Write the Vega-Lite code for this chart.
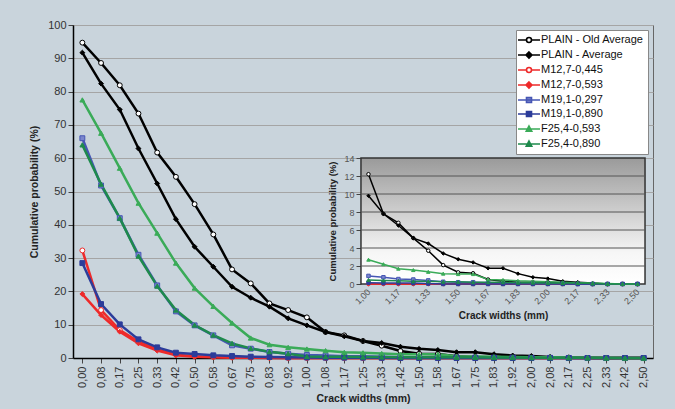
{
  "$schema": "https://vega.github.io/schema/vega-lite/v6.json",
  "width": 580,
  "height": 333,
  "autosize": {"type": "none"},
  "padding": {"left": 73, "top": 25, "right": 22, "bottom": 51},
  "background": "#c9d4dc",
  "config": {
    "view": {"fill": "#ffffff", "stroke": "#666666", "strokeWidth": 1},
    "axis": {"labelFont": "Liberation Sans", "titleFont": "Liberation Sans", "labelColor": "#333333", "titleColor": "#222222"},
    "legend": {"labelFont": "Liberation Sans", "orient": "top-right", "offset": 5, "fillColor": "#ffffff", "strokeColor": "#888888", "padding": 4, "labelFontSize": 11, "labelColor": "#111111", "symbolSize": 100, "symbolStrokeWidth": 1.6, "symbolOffset": 3, "labelOffset": 6, "rowPadding": 2, "symbolOpacity": 1}
  },
  "data": {
    "values": [
      {"w": "0,00", "PLAIN - Old Average": 94.7, "PLAIN - Average": 91.7, "M12,7-0,445": 32.3, "M12,7-0,593": 19.2, "M19,1-0,297": 66.0, "M19,1-0,890": 28.5, "F25,4-0,593": 77.5, "F25,4-0,890": 64.0},
      {"w": "0,08", "PLAIN - Old Average": 88.6, "PLAIN - Average": 82.4, "M12,7-0,445": 14.4, "M12,7-0,593": 12.9, "M19,1-0,297": 51.8, "M19,1-0,890": 16.2, "F25,4-0,593": 67.5, "F25,4-0,890": 52.2},
      {"w": "0,17", "PLAIN - Old Average": 81.9, "PLAIN - Average": 74.6, "M12,7-0,445": 8.4, "M12,7-0,593": 7.9, "M19,1-0,297": 42.0, "M19,1-0,890": 10.1, "F25,4-0,593": 57.0, "F25,4-0,890": 42.0},
      {"w": "0,25", "PLAIN - Old Average": 73.4, "PLAIN - Average": 62.9, "M12,7-0,445": 4.9, "M12,7-0,593": 4.4, "M19,1-0,297": 31.0, "M19,1-0,890": 5.6, "F25,4-0,593": 46.5, "F25,4-0,890": 30.6},
      {"w": "0,33", "PLAIN - Old Average": 61.7, "PLAIN - Average": 52.4, "M12,7-0,445": 2.6, "M12,7-0,593": 2.2, "M19,1-0,297": 21.8, "M19,1-0,890": 3.2, "F25,4-0,593": 37.5, "F25,4-0,890": 21.6},
      {"w": "0,42", "PLAIN - Old Average": 54.4, "PLAIN - Average": 41.7, "M12,7-0,445": 1.0, "M12,7-0,593": 0.8, "M19,1-0,297": 14.0, "M19,1-0,890": 1.6, "F25,4-0,593": 28.5, "F25,4-0,890": 14.4},
      {"w": "0,50", "PLAIN - Old Average": 46.2, "PLAIN - Average": 33.4, "M12,7-0,445": 0.5, "M12,7-0,593": 0.4, "M19,1-0,297": 9.8, "M19,1-0,890": 1.2, "F25,4-0,593": 21.0, "F25,4-0,890": 9.9},
      {"w": "0,58", "PLAIN - Old Average": 37.1, "PLAIN - Average": 27.4, "M12,7-0,445": 0.3, "M12,7-0,593": 0.2, "M19,1-0,297": 6.8, "M19,1-0,890": 0.8, "F25,4-0,593": 15.5, "F25,4-0,890": 6.9},
      {"w": "0,67", "PLAIN - Old Average": 26.6, "PLAIN - Average": 21.4, "M12,7-0,445": 0.2, "M12,7-0,593": 0.1, "M19,1-0,297": 3.8, "M19,1-0,890": 0.6, "F25,4-0,593": 10.5, "F25,4-0,890": 4.4},
      {"w": "0,75", "PLAIN - Old Average": 22.4, "PLAIN - Average": 18.1, "M12,7-0,445": 0.1, "M12,7-0,593": 0.1, "M19,1-0,297": 2.8, "M19,1-0,890": 0.4, "F25,4-0,593": 6.0, "F25,4-0,890": 2.9},
      {"w": "0,83", "PLAIN - Old Average": 16.4, "PLAIN - Average": 15.4, "M12,7-0,445": 0.1, "M12,7-0,593": 0.0, "M19,1-0,297": 1.8, "M19,1-0,890": 0.3, "F25,4-0,593": 4.0, "F25,4-0,890": 1.9},
      {"w": "0,92", "PLAIN - Old Average": 14.4, "PLAIN - Average": 11.9, "M12,7-0,445": 0.0, "M12,7-0,593": 0.0, "M19,1-0,297": 1.3, "M19,1-0,890": 0.2, "F25,4-0,593": 3.2, "F25,4-0,890": 1.3},
      {"w": "1,00", "PLAIN - Old Average": 12.2, "PLAIN - Average": 9.8, "M12,7-0,445": 0.0, "M12,7-0,593": 0.0, "M19,1-0,297": 0.9, "M19,1-0,890": 0.15, "F25,4-0,593": 2.7, "F25,4-0,890": 0.45},
      {"w": "1,08", "PLAIN - Old Average": 7.8, "PLAIN - Average": 7.8, "M12,7-0,445": 0.0, "M12,7-0,593": 0.0, "M19,1-0,297": 0.75, "M19,1-0,890": 0.1, "F25,4-0,593": 2.2, "F25,4-0,890": 0.4},
      {"w": "1,17", "PLAIN - Old Average": 6.8, "PLAIN - Average": 6.5, "M12,7-0,445": 0.0, "M12,7-0,593": 0.0, "M19,1-0,297": 0.55, "M19,1-0,890": 0.1, "F25,4-0,593": 1.7, "F25,4-0,890": 0.35},
      {"w": "1,25", "PLAIN - Old Average": 5.1, "PLAIN - Average": 5.1, "M12,7-0,445": 0.0, "M12,7-0,593": 0.0, "M19,1-0,297": 0.5, "M19,1-0,890": 0.1, "F25,4-0,593": 1.55, "F25,4-0,890": 0.3},
      {"w": "1,33", "PLAIN - Old Average": 3.7, "PLAIN - Average": 4.5, "M12,7-0,445": 0.0, "M12,7-0,593": 0.0, "M19,1-0,297": 0.4, "M19,1-0,890": 0.05, "F25,4-0,593": 1.35, "F25,4-0,890": 0.3},
      {"w": "1,42", "PLAIN - Old Average": 2.1, "PLAIN - Average": 3.4, "M12,7-0,445": 0.0, "M12,7-0,593": 0.0, "M19,1-0,297": 0.25, "M19,1-0,890": 0.0, "F25,4-0,593": 1.15, "F25,4-0,890": 0.25},
      {"w": "1,50", "PLAIN - Old Average": 1.3, "PLAIN - Average": 2.75, "M12,7-0,445": 0.0, "M12,7-0,593": 0.0, "M19,1-0,297": 0.2, "M19,1-0,890": 0.0, "F25,4-0,593": 1.1, "F25,4-0,890": 0.25},
      {"w": "1,58", "PLAIN - Old Average": 1.2, "PLAIN - Average": 2.4, "M12,7-0,445": 0.0, "M12,7-0,593": 0.0, "M19,1-0,297": 0.2, "M19,1-0,890": 0.0, "F25,4-0,593": 1.1, "F25,4-0,890": 0.2},
      {"w": "1,67", "PLAIN - Old Average": 0.5, "PLAIN - Average": 1.75, "M12,7-0,445": 0.0, "M12,7-0,593": 0.0, "M19,1-0,297": 0.15, "M19,1-0,890": 0.0, "F25,4-0,593": 0.5, "F25,4-0,890": 0.2},
      {"w": "1,75", "PLAIN - Old Average": 0.3, "PLAIN - Average": 1.75, "M12,7-0,445": 0.0, "M12,7-0,593": 0.0, "M19,1-0,297": 0.1, "M19,1-0,890": 0.0, "F25,4-0,593": 0.45, "F25,4-0,890": 0.2},
      {"w": "1,83", "PLAIN - Old Average": 0.2, "PLAIN - Average": 1.15, "M12,7-0,445": 0.0, "M12,7-0,593": 0.0, "M19,1-0,297": 0.1, "M19,1-0,890": 0.0, "F25,4-0,593": 0.35, "F25,4-0,890": 0.15},
      {"w": "1,92", "PLAIN - Old Average": 0.2, "PLAIN - Average": 0.75, "M12,7-0,445": 0.0, "M12,7-0,593": 0.0, "M19,1-0,297": 0.1, "M19,1-0,890": 0.0, "F25,4-0,593": 0.3, "F25,4-0,890": 0.15},
      {"w": "2,00", "PLAIN - Old Average": 0.2, "PLAIN - Average": 0.6, "M12,7-0,445": 0.0, "M12,7-0,593": 0.0, "M19,1-0,297": 0.05, "M19,1-0,890": 0.0, "F25,4-0,593": 0.25, "F25,4-0,890": 0.1},
      {"w": "2,08", "PLAIN - Old Average": 0.15, "PLAIN - Average": 0.3, "M12,7-0,445": 0.0, "M12,7-0,593": 0.0, "M19,1-0,297": 0.05, "M19,1-0,890": 0.0, "F25,4-0,593": 0.2, "F25,4-0,890": 0.1},
      {"w": "2,17", "PLAIN - Old Average": 0.1, "PLAIN - Average": 0.2, "M12,7-0,445": 0.0, "M12,7-0,593": 0.0, "M19,1-0,297": 0.0, "M19,1-0,890": 0.0, "F25,4-0,593": 0.15, "F25,4-0,890": 0.1},
      {"w": "2,25", "PLAIN - Old Average": 0.0, "PLAIN - Average": 0.1, "M12,7-0,445": 0.0, "M12,7-0,593": 0.0, "M19,1-0,297": 0.0, "M19,1-0,890": 0.0, "F25,4-0,593": 0.1, "F25,4-0,890": 0.05},
      {"w": "2,33", "PLAIN - Old Average": 0.0, "PLAIN - Average": 0.0, "M12,7-0,445": 0.0, "M12,7-0,593": 0.0, "M19,1-0,297": 0.0, "M19,1-0,890": 0.0, "F25,4-0,593": 0.05, "F25,4-0,890": 0.0},
      {"w": "2,42", "PLAIN - Old Average": 0.0, "PLAIN - Average": 0.0, "M12,7-0,445": 0.0, "M12,7-0,593": 0.0, "M19,1-0,297": 0.0, "M19,1-0,890": 0.0, "F25,4-0,593": 0.0, "F25,4-0,890": 0.0},
      {"w": "2,50", "PLAIN - Old Average": 0.0, "PLAIN - Average": 0.0, "M12,7-0,445": 0.0, "M12,7-0,593": 0.0, "M19,1-0,297": 0.0, "M19,1-0,890": 0.0, "F25,4-0,593": 0.0, "F25,4-0,890": 0.0}
    ]
  },
  "transform": [
    {"fold": ["PLAIN - Old Average", "PLAIN - Average", "M12,7-0,445", "M12,7-0,593", "M19,1-0,297", "M19,1-0,890", "F25,4-0,593", "F25,4-0,890"], "as": ["s", "p"]}
  ],
  "layer": [
    {
      "layer": [
        {
          "mark": {"type": "line", "strokeWidth": 2.5},
          "encoding": {
            "x": {"field": "w", "type": "ordinal", "scale": {"type": "point"},
              "axis": {"title": "Crack widths (mm)", "labelAngle": 270, "labelFontSize": 11, "titleFontSize": 10.5, "titleFontWeight": "bold", "domainColor": "#000000", "domainWidth": 1.5, "tickColor": "#444444", "tickSize": 5, "labelPadding": 3, "titlePadding": 6}},
            "y": {"field": "p", "type": "quantitative", "scale": {"domain": [0, 100], "nice": false},
              "axis": {"title": "Cumulative probability (%)", "values": [0, 10, 20, 30, 40, 50, 60, 70, 80, 90, 100], "tickCount": 20, "format": "d", "labelFontSize": 11, "titleFontSize": 10.5, "titleFontWeight": "bold", "domainColor": "#000000", "domainWidth": 1.5, "tickColor": "#444444", "tickSize": 5, "gridColor": "#a5a5a5", "gridWidth": 1, "titlePadding": 8}},
            "color": {"field": "s", "type": "nominal", "legend": null,
              "scale": {"domain": ["PLAIN - Old Average", "PLAIN - Average", "M12,7-0,445", "M12,7-0,593", "M19,1-0,297", "M19,1-0,890", "F25,4-0,593", "F25,4-0,890"],
                        "range": ["#000000", "#000000", "#ee2a2a", "#ee2a2a", "#4656b4", "#2c3c9a", "#3aab58", "#1e8a4c"]}}
          }
        },
        {
          "mark": {"type": "point", "size": 24, "strokeWidth": 1, "opacity": 1},
          "encoding": {
            "x": {"field": "w", "type": "ordinal"},
            "y": {"field": "p", "type": "quantitative",
              "axis": {"title": "Cumulative probability (%)", "values": [0, 10, 20, 30, 40, 50, 60, 70, 80, 90, 100], "tickCount": 20, "format": "d", "labelFontSize": 11, "titleFontSize": 10.5, "titleFontWeight": "bold", "domainColor": "#000000", "domainWidth": 1.5, "tickColor": "#444444", "tickSize": 5, "gridColor": "#a5a5a5", "gridWidth": 1, "titlePadding": 8}},
            "stroke": {"field": "s", "type": "nominal", "legend": null,
              "scale": {"domain": ["PLAIN - Old Average", "PLAIN - Average", "M12,7-0,445", "M12,7-0,593", "M19,1-0,297", "M19,1-0,890", "F25,4-0,593", "F25,4-0,890"],
                        "range": ["#000000", "#000000", "#ee2a2a", "#ee2a2a", "#4656b4", "#2c3c9a", "#3aab58", "#1e8a4c"]}},
            "fill": {"field": "s", "type": "nominal", "legend": null,
              "scale": {"domain": ["PLAIN - Old Average", "PLAIN - Average", "M12,7-0,445", "M12,7-0,593", "M19,1-0,297", "M19,1-0,890", "F25,4-0,593", "F25,4-0,890"],
                        "range": ["#ffffff", "#000000", "#ffffff", "#ee2a2a", "#7b86cc", "#2c3c9a", "#3aab58", "#1e8a4c"]}},
            "shape": {"field": "s", "type": "nominal", "legend": null,
              "scale": {"domain": ["PLAIN - Old Average", "PLAIN - Average", "M12,7-0,445", "M12,7-0,593", "M19,1-0,297", "M19,1-0,890", "F25,4-0,593", "F25,4-0,890"],
                        "range": ["circle", "diamond", "circle", "diamond", "square", "square", "triangle-up", "triangle-up"]}}
          }
        }
      ]
    },
    {
      "layer": [
        {
          "data": {"values": [{}]},
          "mark": {"type": "rect", "xOffset": -7.5, "x2Offset": 7.5, "stroke": "#333333", "strokeWidth": 1.5,
            "fill": {"gradient": "linear", "x1": 0, "y1": 0, "x2": 0, "y2": 1, "stops": [{"offset": 0, "color": "#9a9a9a"}, {"offset": 0.75, "color": "#f6f6f6"}, {"offset": 1, "color": "#ffffff"}]}},
          "encoding": {
            "x": {"datum": "1,00", "type": "ordinal"},
            "x2": {"datum": "2,50"},
            "y": {"datum": 0, "type": "quantitative"},
            "y2": {"datum": 14}
          }
        },
        {
          "data": {"values": [{"g": 2}, {"g": 4}, {"g": 6}, {"g": 8}, {"g": 10}, {"g": 12}]},
          "mark": {"type": "rule", "xOffset": -7.5, "x2Offset": 7.5, "color": "#555555", "strokeWidth": 1},
          "encoding": {
            "x": {"datum": "1,00", "type": "ordinal"},
            "x2": {"datum": "2,50"},
            "y": {"field": "g", "type": "quantitative"}
          }
        },
        {
          "transform": [{"filter": "datum.w >= '1,00'"}],
          "mark": {"type": "line", "strokeWidth": 1.5},
          "encoding": {
            "x": {"field": "w", "type": "ordinal",
              "scale": {"type": "point", "domain": ["1,00", "1,08", "1,17", "1,25", "1,33", "1,42", "1,50", "1,58", "1,67", "1,75", "1,83", "1,92", "2,00", "2,08", "2,17", "2,25", "2,33", "2,42", "2,50"], "range": [288, 572]},
              "axis": {"orient": "bottom", "offset": -74, "title": "Crack widths (mm)", "values": ["1,00", "1,17", "1,33", "1,50", "1,67", "1,83", "2,00", "2,17", "2,33", "2,50"], "labelAngle": 315, "labelFontSize": 9, "titleFontSize": 10, "titleFontWeight": "bold", "domain": false, "ticks": false, "labelPadding": 6, "titlePadding": 5, "labelColor": "#555555", "grid": false}},
            "y": {"field": "p", "type": "quantitative",
              "scale": {"domain": [0, 14], "range": [259, 133]},
              "axis": {"orient": "left", "offset": -288, "title": "Cumulative probability (%)", "values": [0, 2, 4, 6, 8, 10, 12, 14], "tickCount": 20, "format": "d", "labelFontSize": 9, "titleFontSize": 9.5, "titleFontWeight": "bold", "domain": false, "tickColor": "#444444", "tickSize": 5, "grid": false, "titlePadding": 6, "labelColor": "#555555"}},
            "color": {"field": "s", "type": "nominal", "legend": null,
              "scale": {"domain": ["PLAIN - Old Average", "PLAIN - Average", "M12,7-0,445", "M12,7-0,593", "M19,1-0,297", "M19,1-0,890", "F25,4-0,593", "F25,4-0,890"],
                        "range": ["#000000", "#000000", "#ee2a2a", "#ee2a2a", "#4656b4", "#2c3c9a", "#3aab58", "#1e8a4c"]}}
          }
        },
        {
          "transform": [{"filter": "datum.w >= '1,00'"}],
          "mark": {"type": "point", "size": 12, "strokeWidth": 1, "opacity": 1},
          "encoding": {
            "x": {"field": "w", "type": "ordinal"},
            "y": {"field": "p", "type": "quantitative"},
            "stroke": {"field": "s", "type": "nominal", "legend": null,
              "scale": {"domain": ["PLAIN - Old Average", "PLAIN - Average", "M12,7-0,445", "M12,7-0,593", "M19,1-0,297", "M19,1-0,890", "F25,4-0,593", "F25,4-0,890"],
                        "range": ["#000000", "#000000", "#ee2a2a", "#ee2a2a", "#4656b4", "#2c3c9a", "#3aab58", "#1e8a4c"]}},
            "fill": {"field": "s", "type": "nominal", "legend": null,
              "scale": {"domain": ["PLAIN - Old Average", "PLAIN - Average", "M12,7-0,445", "M12,7-0,593", "M19,1-0,297", "M19,1-0,890", "F25,4-0,593", "F25,4-0,890"],
                        "range": ["#ffffff", "#000000", "#ffffff", "#ee2a2a", "#7b86cc", "#2c3c9a", "#3aab58", "#1e8a4c"]}},
            "shape": {"field": "s", "type": "nominal", "legend": null,
              "scale": {"domain": ["PLAIN - Old Average", "PLAIN - Average", "M12,7-0,445", "M12,7-0,593", "M19,1-0,297", "M19,1-0,890", "F25,4-0,593", "F25,4-0,890"],
                        "range": ["circle", "diamond", "circle", "diamond", "square", "square", "triangle-up", "triangle-up"]}}
          }
        }
      ]
    },
    {
      "data": {"values": []},
      "mark": {"type": "point", "strokeWidth": 1.6},
      "encoding": {
        "shape": {"field": "s", "type": "nominal", "legend": {"title": null},
          "scale": {"domain": ["PLAIN - Old Average", "PLAIN - Average", "M12,7-0,445", "M12,7-0,593", "M19,1-0,297", "M19,1-0,890", "F25,4-0,593", "F25,4-0,890"],
                    "range": [
                      "M-2.2,0H-0.5M0.5,0H2.2M-0.5,0A0.5,0.5 0 1,1 0.5,0A0.5,0.5 0 1,1 -0.5,0Z",
                      "M-2.2,0H2.2M0,-0.6L0.6,0L0,0.6L-0.6,0Z",
                      "M-2.2,0H-0.5M0.5,0H2.2M-0.5,0A0.5,0.5 0 1,1 0.5,0A0.5,0.5 0 1,1 -0.5,0Z",
                      "M-2.2,0H2.2M0,-0.6L0.6,0L0,0.6L-0.6,0Z",
                      "M-2.2,0H2.2M-0.5,-0.5H0.5V0.5H-0.5Z",
                      "M-2.2,0H2.2M-0.5,-0.5H0.5V0.5H-0.5Z",
                      "M-2.2,0H2.2M0,-0.6L0.55,0.45H-0.55Z",
                      "M-2.2,0H2.2M0,-0.6L0.55,0.45H-0.55Z"
                    ]}},
        "stroke": {"field": "s", "type": "nominal", "legend": {"title": null},
          "scale": {"domain": ["PLAIN - Old Average", "PLAIN - Average", "M12,7-0,445", "M12,7-0,593", "M19,1-0,297", "M19,1-0,890", "F25,4-0,593", "F25,4-0,890"],
                    "range": ["#000000", "#000000", "#ee2a2a", "#ee2a2a", "#4656b4", "#2c3c9a", "#3aab58", "#1e8a4c"]}},
        "fill": {"field": "s", "type": "nominal", "legend": {"title": null},
          "scale": {"domain": ["PLAIN - Old Average", "PLAIN - Average", "M12,7-0,445", "M12,7-0,593", "M19,1-0,297", "M19,1-0,890", "F25,4-0,593", "F25,4-0,890"],
                    "range": ["#ffffff", "#000000", "#ffffff", "#ee2a2a", "#7b86cc", "#2c3c9a", "#3aab58", "#1e8a4c"]}}
      }
    }
  ],
  "resolve": {
    "scale": {"x": "independent", "y": "independent", "color": "independent", "stroke": "independent", "fill": "independent", "shape": "independent"},
    "axis": {"x": "independent", "y": "independent"},
    "legend": {"color": "independent", "stroke": "independent", "fill": "independent", "shape": "independent"}
  }
}
